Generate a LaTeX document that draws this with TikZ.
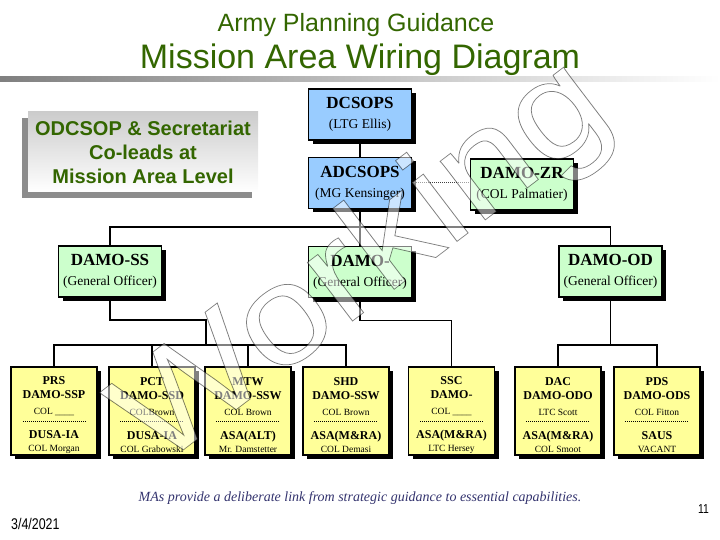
\documentclass[tikz,border=0pt]{standalone}
\usepackage{fontspec}
\setmainfont{Liberation Serif}
\newfontfamily\arialfont{Liberation Sans}
\newfontfamily\narrowfont{Liberation Sans}[FakeStretch=0.8]
\usetikzlibrary{shadows}
\definecolor{titlegreen}{RGB}{51,102,0}
\definecolor{chiefblue}{RGB}{153,204,255}
\definecolor{dirgreen}{RGB}{204,255,204}
\definecolor{divyellow}{RGB}{255,255,153}
\definecolor{notenavy}{RGB}{51,51,110}

\begin{document}
\begin{tikzpicture}[x=1pt, y=-1pt, every node/.style={inner sep=0pt},
  boxshadow/.style={general shadow={fill=black, shadow xshift=4pt, shadow yshift=-4pt}},
  chief/.style={draw, line width=1.5pt, fill=chiefblue, boxshadow, minimum width=103pt, minimum height=51pt, align=center, font=\fontsize{13.5}{20}\selectfont},
  director/.style={chief, fill=dirgreen},
  division/.style={draw, line width=1.5pt, fill=divyellow, boxshadow, minimum width=86pt, minimum height=88pt, align=center, font=\fontsize{12}{14}\selectfont},
  wire/.style={line width=1.5pt},
  sepline/.style={line width=1pt, dash pattern=on 1pt off 1pt},
  liaison/.style={line width=1pt, dash pattern=on 1pt off 1pt, black!75},
  wmark/.style={rotate=37.3, xscale=1.13, text=white, text opacity=0.5, font=\arialfont\fontsize{140}{140}\selectfont}]
\useasboundingbox (0,0) rectangle (720,540);

% title
\node[anchor=base, text=titlegreen, font=\arialfont\fontsize{25}{25}\selectfont] (subtitle) at (356,32) {Army Planning Guidance};
\node[anchor=base, text=titlegreen, font=\arialfont\fontsize{34}{34}\selectfont] (title) at (360,69) {Mission Area Wiring Diagram};
\shade[left color=black!50, right color=white] (0,77) rectangle (720,82);

% co-lead note
\node[minimum width=230pt, minimum height=80pt, top color=black!20, bottom color=white,
  general shadow={fill=black!45, shadow xshift=-6pt, shadow yshift=-6pt},
  align=center, text=titlegreen, font=\arialfont\bfseries\fontsize{20}{24}\selectfont] (colead) at (143,152)
  {ODCSOP \& Secretariat\\Co-leads at\\Mission Area Level};

% headquarters
\node[chief] (DCSOPS) at (360,114.5) {{\bfseries\fontsize{17}{20}\selectfont DCSOPS}\\(LTG Ellis)};
\node[chief] (ADCSOPS) at (360,183) {{\bfseries\fontsize{17}{20}\selectfont ADCSOPS}\\(MG Kensinger)};
\node[director] (DAMOZR) at (522,184.5) {{\bfseries\fontsize{17}{20}\selectfont DAMO-ZR}\\(COL Palmatier)};

% directorates
\node[director] (DAMOSS) at (110,271.5) {{\bfseries\fontsize{17}{20}\selectfont DAMO-SS}\\(General Officer)};
\node[director] (DAMOC) at (360,272) {{\bfseries\fontsize{17}{20}\selectfont DAMO-}\\(General Officer)};
\node[director] (DAMOOD) at (610.5,271.5) {{\bfseries\fontsize{17}{20}\selectfont DAMO-OD}\\(General Officer)};

% divisions
\node[division] (PRS) at (54,411) {\rule{0pt}{17pt}\textbf{PRS}\\\textbf{DAMO-SSP}\\[2pt]{\fontsize{9.5}{11}\selectfont COL \_\_\_\_}\\[10pt]\textbf{DUSA-IA}\\[-1pt]{\fontsize{9.5}{11}\selectfont COL Morgan}};
\node[division] (PCT) at (152,411) {\rule{0pt}{17pt}\textbf{PCT}\\\textbf{DAMO-SSD}\\[2pt]{\fontsize{9.5}{11}\selectfont COLBrown}\\[10pt]\textbf{DUSA-IA}\\[-1pt]{\fontsize{9.5}{11}\selectfont COL Grabowski}};
\node[division] (MTW) at (248,411) {\rule{0pt}{17pt}\textbf{MTW}\\\textbf{DAMO-SSW}\\[2pt]{\fontsize{9.5}{11}\selectfont COL Brown}\\[10pt]\textbf{ASA(ALT)}\\[-1pt]{\fontsize{9.5}{11}\selectfont Mr. Damstetter}};
\node[division] (SHD) at (346,411) {\rule{0pt}{17pt}\textbf{SHD}\\\textbf{DAMO-SSW}\\[2pt]{\fontsize{9.5}{11}\selectfont COL Brown}\\[10pt]\textbf{ASA(M\&RA)}\\[-1pt]{\fontsize{9.5}{11}\selectfont COL Demasi}};
\node[division] (SSC) at (451.5,411) {\rule{0pt}{17pt}\textbf{SSC}\\\textbf{DAMO-}\\[2pt]{\fontsize{9.5}{11}\selectfont COL \_\_\_\_}\\[10pt]\textbf{ASA(M\&RA)}\\[-1pt]{\fontsize{9.5}{11}\selectfont LTC Hersey}};
\node[division] (DAC) at (558,411) {\rule{0pt}{17pt}\textbf{DAC}\\\textbf{DAMO-ODO}\\[2pt]{\fontsize{9.5}{11}\selectfont LTC Scott}\\[10pt]\textbf{ASA(M\&RA)}\\[-1pt]{\fontsize{9.5}{11}\selectfont COL Smoot}};
\node[division] (PDS) at (657,411) {\rule{0pt}{17pt}\textbf{PDS}\\\textbf{DAMO-ODS}\\[2pt]{\fontsize{9.5}{11}\selectfont COL Fitton}\\[10pt]\textbf{SAUS}\\[-1pt]{\fontsize{9.5}{11}\selectfont VACANT}};
\draw[sepline] (23,421) -- (87,421);
\draw[sepline] (120,421) -- (184,421);
\draw[sepline] (216,421) -- (280,421);
\draw[sepline] (314,421) -- (378,421);
\draw[sepline] (420,421) -- (484,421);
\draw[sepline] (526,421) -- (590,421);
\draw[sepline] (625,421) -- (689,421);

% wiring
\coordinate (gobus) at (360,227);
\coordinate (ssjog) at (206,320);
\coordinate (ssbus) at (206,345);
\coordinate (odbus) at (610.5,345);
\draw[wire] (DCSOPS) -- (ADCSOPS);
\draw[wire] (ADCSOPS) -- (DAMOC);
\draw[liaison] (ADCSOPS.east) -- (DAMOZR.west |- ADCSOPS.east);
\draw[wire] (DAMOSS) |- (gobus) -| (DAMOOD);
\draw[wire] (DAMOSS) |- (ssjog) -- (ssbus);
\draw[wire] (PRS) |- (ssbus) -| (SHD);
\draw[wire] (PCT) -- (PCT |- ssbus);
\draw[wire] (MTW) -- (MTW |- ssbus);
\draw[wire] (DAMOC.south) -- ++(0,22) -| (SSC);
\draw[wire] (DAMOOD) -- (odbus);
\draw[wire] (DAC) |- (odbus) -| (PDS);

% footer
\node[anchor=base, text=notenavy, font=\itshape\fontsize{14}{16}\selectfont] (note) at (360,501) {MAs provide a deliberate link from strategic guidance to essential capabilities.};
\node[anchor=base west, font=\narrowfont\fontsize{15.5}{15.5}\selectfont] (date) at (11,529) {3/4/2021};
\node[anchor=base east, font=\narrowfont\fontsize{13}{13}\selectfont] (page) at (709,513) {11};

% watermark: fill and stroke text render mode
\node[wmark] (working) at (365,266) {\special{pdf:literal direct 2 Tr 0.7 w 0 G}Working\special{pdf:literal direct 0 Tr}};
\end{tikzpicture}
\end{document}
